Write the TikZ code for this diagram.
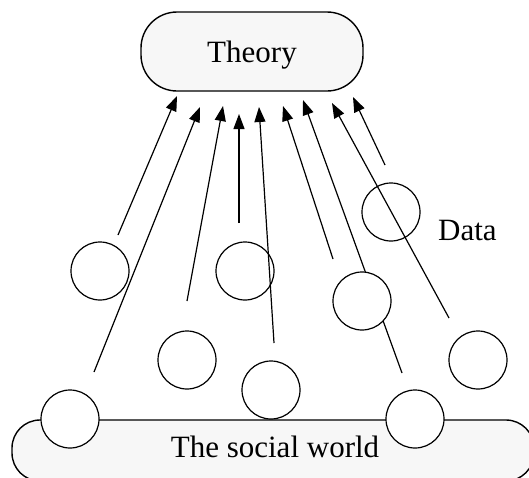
\documentclass[tikz,border=0pt]{standalone}
\usepackage{fontspec}
\setmainfont{Liberation Serif}
\usetikzlibrary{arrows.meta}
\begin{document}
\begin{tikzpicture}[x=1pt,y=-1pt,
  box/.style={draw=black,line width=1.4pt,fill=black!3},
  blob/.style={circle,draw=black,line width=1.2pt,fill=white,minimum size=58pt,inner sep=0pt},
  link/.style={line width=1.2pt,-{Triangle[length=15pt,width=11pt]}},
  lbl/.style={font=\fontsize{31}{37}\selectfont,inner sep=0pt}]
\useasboundingbox (0,0) rectangle (529,477);
\begin{scope}
\clip (0,0) rectangle (529,477);
% boxes
\draw[box,rounded corners=36pt] (141,12) rectangle (363,91);
\node[lbl,anchor=base] (theory) at (252,62) {Theory};
\draw[box,rounded corners=28pt] (12,420) rectangle (534,481);
\node[lbl,anchor=base] (world) at (275,457) {The social world};
% start and end points
\coordinate (s1) at (118,235); \coordinate (e1) at (177,96);
\coordinate (s2) at (94,372);  \coordinate (e2) at (200,107);
\coordinate (s3) at (187,301); \coordinate (e3) at (223,106);
\coordinate (s4) at (239,223); \coordinate (e4) at (239,114);
\coordinate (s5) at (274,343); \coordinate (e5) at (259,107);
\coordinate (s6) at (333,259); \coordinate (e6) at (283,106);
\coordinate (s7) at (402,373); \coordinate (e7) at (303,100);
\coordinate (s8) at (449,318); \coordinate (e8) at (332,103);
\coordinate (s9) at (385,165); \coordinate (e9) at (353,97);
% arrow hidden behind circle
\draw[link] (s7) -- (e7);
% circles
\node[blob] (c1) at (100,271) {};
\node[blob] (c2) at (391,212) {};
\node[blob] (c3) at (245,271) {};
\node[blob] (c4) at (362,301) {};
\node[blob] (c5) at (187,360) {};
\node[blob] (c6) at (478,360) {};
\node[blob] (c7) at (271,390) {};
\node[blob] (c8) at (70,419) {};
\node[blob] (c9) at (415,419) {};
\node[lbl,anchor=base west] (data) at (438,240) {Data};
% arrows
\draw[link] (s1) -- (e1);
\draw[link] (s2) -- (e2);
\draw[link] (s3) -- (e3);
\draw[link] (s4) -- (e4);
\draw[link] (s5) -- (e5);
\draw[link] (s6) -- (e6);
\draw[link] (s8) -- (e8);
\draw[link] (s9) -- (e9);
\end{scope}
\end{tikzpicture}
\end{document}
